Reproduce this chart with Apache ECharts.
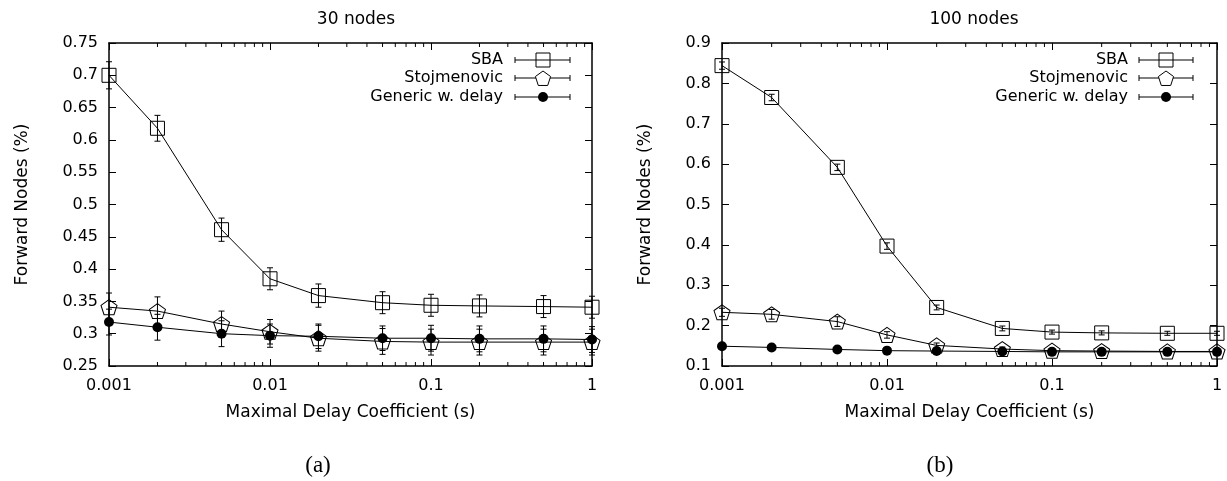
<!DOCTYPE html>
<html>
<head>
<meta charset="utf-8">
<script src="https://cdn.jsdelivr.net/npm/echarts@6/dist/echarts.min.js"></script>
<style>
  html, body { margin: 0; padding: 0; background: #fff; }
  #chart { width: 1227px; height: 481px; }
</style>
</head>
<body>
<div id="chart"></div>
<script>
// Maximal delay coefficients (s), shared by both panels
const delays = [0.001, 0.002, 0.005, 0.01, 0.02, 0.05, 0.1, 0.2, 0.5, 1];
const xTickLabels = ['0.001', '0.01', '0.1', '1'];
const minorTickValues = [0.002, 0.003, 0.004, 0.005, 0.006, 0.007, 0.008, 0.009,
                         0.02, 0.03, 0.04, 0.05, 0.06, 0.07, 0.08, 0.09,
                         0.2, 0.3, 0.4, 0.5, 0.6, 0.7, 0.8, 0.9];
const seriesNames = ['SBA', 'Stojmenovic', 'Generic w. delay'];
const panelTitles = ['30 nodes', '100 nodes'];
const panelCaptions = ['(a)', '(b)'];

// Panel (a): 30 nodes
const sba30      = [0.700, 0.618, 0.461, 0.385, 0.359, 0.348, 0.344, 0.343, 0.342, 0.341];
const sba30Err   = [0.021, 0.020, 0.018, 0.017, 0.018, 0.017, 0.017, 0.017, 0.017, 0.017];
const stoj30     = [0.341, 0.335, 0.315, 0.303, 0.293, 0.288, 0.287, 0.287, 0.287, 0.287];
const stoj30Err  = [0.022, 0.022, 0.020, 0.019, 0.020, 0.020, 0.020, 0.020, 0.020, 0.020];
const gen30      = [0.318, 0.310, 0.300, 0.297, 0.296, 0.293, 0.293, 0.292, 0.292, 0.291];
const gen30Err   = [0.020, 0.020, 0.020, 0.018, 0.019, 0.019, 0.020, 0.020, 0.020, 0.020];

// Panel (b): 100 nodes
const sba100     = [0.844, 0.765, 0.592, 0.397, 0.245, 0.193, 0.184, 0.182, 0.181, 0.181];
const sba100Err  = [0.009, 0.008, 0.008, 0.008, 0.006, 0.006, 0.005, 0.005, 0.005, 0.005];
const stoj100    = [0.233, 0.228, 0.210, 0.177, 0.151, 0.142, 0.138, 0.137, 0.136, 0.136];
const stoj100Err = [0.010, 0.012, 0.012, 0.008, 0.006, 0.005, 0.004, 0.004, 0.004, 0.004];
const gen100     = [0.149, 0.146, 0.141, 0.138, 0.137, 0.136, 0.135, 0.135, 0.135, 0.135];
const gen100Err  = [0.003, 0.003, 0.003, 0.003, 0.003, 0.003, 0.003, 0.003, 0.003, 0.003];

const SANS = 'DejaVu Sans';
const INK = '#000';
const PENTAGON = 'path://M0,-10 L9.511,-3.09 L5.878,8.09 L-5.878,8.09 L-9.511,-3.09 Z';

const grids = [
  { left: 109, right: 635, top: 43, bottom: 115, yMin: 0.25, yMax: 0.75, yStep: 0.05, nameGap: 78 },
  { left: 722, right: 10,  top: 43, bottom: 115, yMin: 0.1,  yMax: 0.9,  yStep: 0.1,  nameGap: 68 }
];

const chart = echarts.init(document.getElementById('chart'), null, { renderer: 'canvas' });

const xAxes = [], yAxes = [];
grids.forEach((g, gi) => {
  const baseX = {
    type: 'log', logBase: 10, min: 0.001, max: 1, gridIndex: gi,
    axisLine: { show: true, lineStyle: { color: INK, width: 1.5 } },
    axisTick: { show: true, inside: true, length: 7, lineStyle: { color: INK, width: 1 } },
    splitLine: { show: false }, minorTick: { show: false }
  };
  xAxes.push(Object.assign({}, baseX, {
    position: 'bottom',
    name: 'Maximal Delay Coefficient (s)', nameLocation: 'middle', nameGap: 38,
    nameTextStyle: { fontFamily: SANS, fontSize: 17, color: INK },
    axisLabel: {
      show: true, margin: 12, fontFamily: SANS, fontSize: 16, color: INK,
      formatter: v => xTickLabels[Math.round(Math.log10(v)) + 3]
    }
  }));
  xAxes.push(Object.assign({}, baseX, { position: 'top', axisLabel: { show: false } }));

  const baseY = {
    type: 'value', min: g.yMin, max: g.yMax, interval: g.yStep, gridIndex: gi,
    axisLine: { show: true, lineStyle: { color: INK, width: 1.5 } },
    axisTick: { show: true, inside: true, length: 7, lineStyle: { color: INK, width: 1 } },
    splitLine: { show: false }
  };
  yAxes.push(Object.assign({}, baseY, {
    position: 'left',
    name: 'Forward Nodes (%)', nameLocation: 'middle', nameGap: g.nameGap, nameRotate: 90,
    nameTextStyle: { fontFamily: SANS, fontSize: 17, color: INK },
    axisLabel: { show: true, margin: 11, fontFamily: SANS, fontSize: 16, color: INK }
  }));
  yAxes.push(Object.assign({}, baseY, { position: 'right', axisLabel: { show: false } }));
});

// Vertical error bars with short caps
function errorBarSeries(values, errs, gi) {
  return {
    type: 'custom', xAxisIndex: gi * 2, yAxisIndex: gi * 2, z: 3, silent: true,
    data: delays.map((d, i) => [d, values[i] - errs[i], values[i] + errs[i]]),
    renderItem: (params, api) => {
      const lo = api.coord([api.value(0), api.value(1)]);
      const hi = api.coord([api.value(0), api.value(2)]);
      const style = { stroke: INK, lineWidth: 1 };
      return {
        type: 'group',
        children: [
          { type: 'line', shape: { x1: lo[0], y1: lo[1], x2: hi[0], y2: hi[1] }, style },
          { type: 'line', shape: { x1: lo[0] - 3, y1: lo[1], x2: lo[0] + 3, y2: lo[1] }, style },
          { type: 'line', shape: { x1: hi[0] - 3, y1: hi[1], x2: hi[0] + 3, y2: hi[1] }, style }
        ]
      };
    }
  };
}

// Log-scale minor ticks on the bottom and top borders
function minorTickSeries(gi) {
  const g = grids[gi];
  return {
    type: 'custom', xAxisIndex: gi * 2, yAxisIndex: gi * 2, z: 4, silent: true, clip: false,
    data: minorTickValues.map(v => [v, g.yMin]),
    renderItem: (params, api) => {
      const p = api.coord([api.value(0), api.value(1)]);
      const top = params.coordSys.y;
      const style = { stroke: INK, lineWidth: 1 };
      return {
        type: 'group',
        children: [
          { type: 'line', shape: { x1: p[0], y1: p[1], x2: p[0], y2: p[1] - 4 }, style },
          { type: 'line', shape: { x1: p[0], y1: top, x2: p[0], y2: top + 4 }, style }
        ]
      };
    }
  };
}

const markerStyles = [
  { symbol: 'rect', symbolSize: 14, itemStyle: { color: 'rgba(255,255,255,0)', borderColor: INK, borderWidth: 1 } },
  { symbol: PENTAGON, symbolSize: [16, 15], itemStyle: { color: 'rgba(255,255,255,0)', borderColor: INK, borderWidth: 1 } },
  { symbol: 'circle', symbolSize: 10, itemStyle: { color: INK, borderColor: INK, borderWidth: 0 } }
];

function lineSeries(name, values, gi, k) {
  return Object.assign({
    type: 'line', name, xAxisIndex: gi * 2, yAxisIndex: gi * 2, z: 5,
    data: delays.map((d, i) => [d, values[i]]),
    showAllSymbol: true, silent: true, animation: false,
    lineStyle: { color: INK, width: 1 }
  }, markerStyles[k]);
}

const panels = [
  { vals: [sba30, stoj30, gen30], errs: [sba30Err, stoj30Err, gen30Err] },
  { vals: [sba100, stoj100, gen100], errs: [sba100Err, stoj100Err, gen100Err] }
];

const series = [];
panels.forEach((p, gi) => {
  series.push(minorTickSeries(gi));
  p.vals.forEach((v, k) => {
    series.push(errorBarSeries(v, p.errs[k], gi));
    series.push(lineSeries(seriesNames[k], v, gi, k));
  });
});

// Key boxes drawn in the upper right of each panel
const keyLayouts = [
  { textRight: 503, x1: 515, x2: 570, mx: 543, rows: [60, 78, 97] },
  { textRight: 1128, x1: 1139, x2: 1193, mx: 1166, rows: [60, 78, 97] }
];
const graphic = [];
keyLayouts.forEach(L => {
  seriesNames.forEach((name, k) => {
    const y = L.rows[k];
    const s = { stroke: INK, lineWidth: 1 };
    graphic.push({ type: 'text', x: L.textRight, y: y, style: { text: name, fontFamily: SANS, fontSize: 16, fill: INK, align: 'right', verticalAlign: 'middle' } });
    graphic.push({ type: 'line', shape: { x1: L.x1, y1: y, x2: L.x2, y2: y }, style: s });
    graphic.push({ type: 'line', shape: { x1: L.x1, y1: y - 3, x2: L.x1, y2: y + 3 }, style: s });
    graphic.push({ type: 'line', shape: { x1: L.x2, y1: y - 3, x2: L.x2, y2: y + 3 }, style: s });
    if (k === 0) {
      graphic.push({ type: 'rect', shape: { x: L.mx - 7, y: y - 7, width: 14, height: 14 }, style: { fill: 'rgba(255,255,255,0)', stroke: INK, lineWidth: 1 } });
    } else if (k === 1) {
      const pts = [];
      for (let j = 0; j < 5; j++) {
        const a = (-90 + 72 * j) * Math.PI / 180;
        pts.push([L.mx + 8 * Math.cos(a), y + 1 + 8 * Math.sin(a)]);
      }
      graphic.push({ type: 'polygon', shape: { points: pts }, style: { fill: '#fff', stroke: INK, lineWidth: 1 } });
    } else {
      graphic.push({ type: 'circle', shape: { cx: L.mx, cy: y, r: 5 }, style: { fill: INK } });
    }
  });
});

chart.setOption({
  animation: false,
  backgroundColor: '#fff',
  title: [
    { text: panelTitles[0], left: 351, top: 6, textAlign: 'center', textStyle: { fontFamily: SANS, fontSize: 17, fontWeight: 'normal', color: INK } },
    { text: panelTitles[1], left: 969, top: 6, textAlign: 'center', textStyle: { fontFamily: SANS, fontSize: 17, fontWeight: 'normal', color: INK } },
    { text: panelCaptions[0], left: 313, top: 449, textAlign: 'center', textStyle: { fontFamily: 'Liberation Serif', fontSize: 23, fontWeight: 'normal', color: INK } },
    { text: panelCaptions[1], left: 935, top: 449, textAlign: 'center', textStyle: { fontFamily: 'Liberation Serif', fontSize: 23, fontWeight: 'normal', color: INK } }
  ],
  grid: grids.map(g => ({ left: g.left, right: g.right, top: g.top, bottom: g.bottom, containLabel: false })),
  xAxis: xAxes,
  yAxis: yAxes,
  series,
  graphic
});
</script>
</body>
</html>
